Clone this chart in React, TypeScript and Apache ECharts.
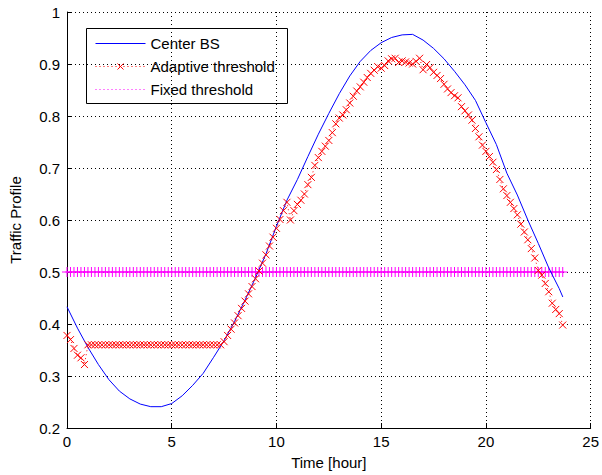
import React, { useEffect, useRef } from "react";
import * as echarts from "echarts";

// Blue curve (Center BS) sampled every half hour
const BS_TIME = [0, 0.5, 1, 1.5, 2, 2.5, 3, 3.5, 4, 4.5, 5, 5.5, 6, 6.5, 7, 7.5, 8, 8.5, 9, 9.5, 10, 10.5, 11, 11.5, 12, 12.5, 13, 13.5, 14, 14.5, 15, 15.5, 16, 16.5, 17, 17.5, 18, 18.5, 19, 19.5, 20, 20.5, 21, 21.5, 22, 22.5, 23, 23.5, 23.67];
const CENTER_BS = [0.433, 0.392, 0.355, 0.322, 0.293, 0.271, 0.256, 0.246, 0.241, 0.241, 0.247, 0.262, 0.282, 0.305, 0.336, 0.368, 0.405, 0.446, 0.489, 0.535, 0.588, 0.638, 0.678, 0.722, 0.765, 0.805, 0.843, 0.877, 0.905, 0.926, 0.941, 0.951, 0.956, 0.957, 0.946, 0.93, 0.91, 0.886, 0.86, 0.83, 0.787, 0.745, 0.69, 0.648, 0.6, 0.555, 0.508, 0.468, 0.452];

// Threshold samples every 10 minutes (143 samples)
const STEP_COUNT = 143;
const TIME = Array.from({ length: STEP_COUNT }, (_, k) => k / 6);

const ADAPTIVE = [
  0.378, 0.370, 0.353, 0.340, 0.335, 0.322,
  0.36, 0.36, 0.36, 0.36, 0.36, 0.36, 0.36, 0.36, 0.36, 0.36,
  0.36, 0.36, 0.36, 0.36, 0.36, 0.36, 0.36, 0.36, 0.36, 0.36,
  0.36, 0.36, 0.36, 0.36, 0.36, 0.36, 0.36, 0.36, 0.36, 0.36,
  0.36, 0.36, 0.36, 0.36, 0.36, 0.36, 0.36, 0.36, 0.36,
  0.366, 0.378, 0.390, 0.402, 0.416, 0.430, 0.444, 0.458, 0.472, 0.487,
  0.502, 0.517, 0.533, 0.550, 0.567, 0.584, 0.601, 0.618, 0.634, 0.600,
  0.618, 0.630, 0.638, 0.650, 0.668, 0.682, 0.705, 0.720, 0.732, 0.742,
  0.753, 0.768, 0.785, 0.796, 0.802, 0.812, 0.825, 0.838, 0.848, 0.856,
  0.865, 0.874, 0.882, 0.888, 0.895, 0.892, 0.897, 0.906, 0.910, 0.911,
  0.903, 0.906, 0.904, 0.902, 0.900, 0.905, 0.911, 0.889, 0.899, 0.893,
  0.884, 0.878, 0.872, 0.861, 0.852, 0.845, 0.839, 0.835, 0.818, 0.810,
  0.802, 0.792, 0.776, 0.760, 0.744, 0.732, 0.722, 0.711, 0.697, 0.678,
  0.660, 0.647, 0.634, 0.622, 0.610, 0.592, 0.577, 0.562, 0.545, 0.527,
  0.503, 0.494, 0.478, 0.462, 0.440, 0.428, 0.420, 0.398,
];

const FIXED_THRESHOLD = 0.5;

const X_TICKS = [0, 5, 10, 15, 20, 25];
const Y_TICKS = [0.2, 0.3, 0.4, 0.5, 0.6, 0.7, 0.8, 0.9, 1];

const LEGEND = ["Center BS", "Adaptive threshold", "Fixed threshold"];

const FONT = "'Liberation Sans', Arial, Helvetica, sans-serif";
const X_MARK = "path://M0,0L10,10M10,0L0,10";
const PLUS_MARK = "path://M5,0L5,10M0,5L10,5";

export default function App() {
  const ref = useRef<HTMLDivElement>(null);

  useEffect(() => {
    document.body.style.margin = "0";
    const chart = echarts.init(ref.current!, null, { renderer: "svg" });

    const lx = 86, ly = 28;
    chart.setOption({
      animation: false,
      backgroundColor: "#fff",
      grid: { left: 62, right: 7, top: 12, bottom: 45, containLabel: false },
      xAxis: {
        type: "value",
        min: X_TICKS[0],
        max: X_TICKS[X_TICKS.length - 1],
        interval: 5,
        name: "Time [hour]",
        nameLocation: "middle",
        nameGap: 27,
        nameTextStyle: { fontFamily: FONT, fontSize: 15, color: "#000" },
        axisLine: { lineStyle: { color: "#000", width: 1 } },
        axisTick: { inside: true, length: 5, lineStyle: { color: "#000" } },
        axisLabel: { fontFamily: FONT, fontSize: 15, color: "#000", margin: 6 },
        splitLine: { show: true, lineStyle: { color: "#000", type: [1, 3], width: 1 } },
      },
      yAxis: {
        type: "value",
        min: Y_TICKS[0],
        max: Y_TICKS[Y_TICKS.length - 1],
        interval: 0.1,
        name: "Traffic Profile",
        nameLocation: "middle",
        nameGap: 44,
        nameRotate: 90,
        nameTextStyle: { fontFamily: FONT, fontSize: 15, color: "#000" },
        axisLine: { show: true, lineStyle: { color: "#000", width: 1 } },
        axisTick: { show: true, inside: true, length: 5, lineStyle: { color: "#000" } },
        axisLabel: {
          fontFamily: FONT,
          fontSize: 15,
          color: "#000",
          margin: 7,
          formatter: (v: number) => String(Math.round(v * 10) / 10),
        },
        splitLine: { show: true, lineStyle: { color: "#000", type: [1, 3], width: 1 } },
      },
      series: [
        {
          name: LEGEND[0],
          type: "line",
          data: BS_TIME.map((t, i) => [t, CENTER_BS[i]]),
          symbol: "none",
          lineStyle: { color: "#0000ff", width: 1 },
          z: 3,
        },
        {
          name: LEGEND[1],
          type: "line",
          data: TIME.map((t, i) => [t, ADAPTIVE[i]]),
          symbol: X_MARK,
          symbolSize: 7,
          showAllSymbol: true,
          itemStyle: { color: "#ff0000", borderColor: "#ff0000", borderWidth: 1 },
          lineStyle: { color: "#ff0000", width: 1, type: [1, 3] },
          z: 4,
        },
        {
          name: LEGEND[2],
          type: "line",
          data: TIME.map((t) => [t, FIXED_THRESHOLD]),
          symbol: PLUS_MARK,
          symbolSize: 10,
          showAllSymbol: true,
          itemStyle: { color: "#ff00ff", borderColor: "#ff00ff", borderWidth: 1 },
          lineStyle: { color: "#ff00ff", width: 1, type: [1, 3] },
          z: 2,
        },
      ],
      graphic: [
        {
          type: "group",
          left: lx,
          top: ly,
          z: 100,
          children: [
            {
              type: "rect",
              shape: { x: 0, y: 0, width: 201, height: 75 },
              style: { fill: "#fff", stroke: "#000", lineWidth: 1 },
            },
            {
              type: "line",
              shape: { x1: 9, y1: 15, x2: 59, y2: 15 },
              style: { stroke: "#0000ff", lineWidth: 1 },
            },
            {
              type: "line",
              shape: { x1: 9, y1: 38, x2: 59, y2: 38 },
              style: { stroke: "#ff0000", lineWidth: 1, lineDash: [1, 3] },
            },
            {
              type: "line",
              shape: { x1: 31, y1: 35, x2: 37, y2: 41 },
              style: { stroke: "#ff0000", lineWidth: 1 },
            },
            {
              type: "line",
              shape: { x1: 37, y1: 35, x2: 31, y2: 41 },
              style: { stroke: "#ff0000", lineWidth: 1 },
            },
            {
              type: "line",
              shape: { x1: 9, y1: 61, x2: 59, y2: 61 },
              style: { stroke: "#ff00ff", lineWidth: 1, lineDash: [1, 3] },
            },
            {
              type: "text",
              x: 64,
              y: 15,
              style: { text: LEGEND[0], font: `15px ${FONT}`, fill: "#000", verticalAlign: "middle" },
            },
            {
              type: "text",
              x: 64,
              y: 38,
              style: { text: LEGEND[1], font: `15px ${FONT}`, fill: "#000", verticalAlign: "middle" },
            },
            {
              type: "text",
              x: 64,
              y: 61,
              style: { text: LEGEND[2], font: `15px ${FONT}`, fill: "#000", verticalAlign: "middle" },
            },
          ],
        },
      ],
    });

    return () => chart.dispose();
  }, []);

  return <div ref={ref} style={{ width: 602, height: 475 }} />;
}
